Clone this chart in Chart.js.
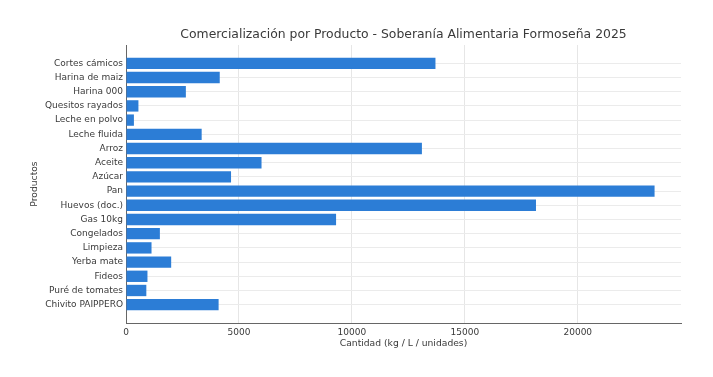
<!DOCTYPE html>
<html lang="es">

<head>
  <meta charset="UTF-8">
  <title>Comercialización por Producto</title>
  <style>
    html, body {
      margin: 0;
      padding: 0;
      background: #fff;
    }

    #contenedor {
      width: 713px;
      height: 377px;
    }
  </style>
  <script src="https://cdn.jsdelivr.net/npm/chart.js"></script>
</head>

<body>
  <div id="contenedor">
    <canvas id="grafico"></canvas>
  </div>

  <script>
    // Datos
    const productos = [
      'Cortes cámicos', 'Harina de maiz', 'Harina 000', 'Quesitos rayados',
      'Leche en polvo', 'Leche fluida', 'Arroz', 'Aceite', 'Azúcar', 'Pan',
      'Huevos (doc.)', 'Gas 10kg', 'Congelados', 'Limpieza', 'Yerba mate',
      'Fideos', 'Puré de tomates', 'Chivito PAIPPERO'
    ];
    const cantidades = [
      13700, 4150, 2650, 550, 350, 3350, 13100, 6000, 4650, 23400,
      18150, 9300, 1500, 1130, 2000, 950, 900, 4100
    ];
    const ticksX = [0, 5000, 10000, 15000, 20000];

    const titulo = 'Comercialización por Producto - Soberanía Alimentaria Formoseña 2025';
    const fuente = 'DejaVu Sans';

    // titulo centrado sobre el area del grafico
    const tituloPlugin = {
      id: 'tituloArea',
      afterDraw(chart) {
        const { ctx, chartArea } = chart;
        ctx.save();
        ctx.font = '12.4px "' + fuente + '"';
        ctx.fillStyle = '#3a3a3a';
        ctx.textAlign = 'center';
        ctx.textBaseline = 'middle';
        ctx.fillText(titulo, (chartArea.left + chartArea.right) / 2, 35);
        ctx.restore();
      }
    };

    const margenY = 1.29;

    new Chart(document.getElementById('grafico'), {
      type: 'bar',
      data: {
        datasets: [{
          data: cantidades.map((v, i) => ({ x: v, y: i })),
          backgroundColor: '#2c7dd6',
          borderWidth: 0,
          barPercentage: 0.8,
          categoryPercentage: 1
        }]
      },
      options: {
        indexAxis: 'y',
        responsive: true,
        maintainAspectRatio: false,
        animation: false,
        layout: { padding: { top: 45, right: 32, bottom: 0, left: 0 } },
        plugins: {
          legend: { display: false },
          tooltip: { enabled: false }
        },
        scales: {
          x: {
            type: 'linear',
            min: 0,
            max: 24570,
            afterFit: (s) => { s.height = 54; },
            afterBuildTicks: (s) => { s.ticks = ticksX.map(v => ({ value: v })); },
            border: { color: '#666', width: 1 },
            grid: { color: '#e6e6e6', drawTicks: false },
            ticks: {
              padding: 4,
              color: '#3a3a3a',
              font: { family: fuente, size: 9 },
              callback: (v) => String(v)
            },
            title: {
              display: true,
              text: 'Cantidad (kg / L / unidades)',
              color: '#3a3a3a',
              font: { family: fuente, size: 9.2 },
              padding: { top: 0, bottom: 28 }
            }
          },
          y: {
            type: 'linear',
            reverse: true,
            offset: false,
            min: -margenY,
            max: productos.length - 1 + margenY,
            afterFit: (s) => { s.width = 126; },
            afterBuildTicks: (s) => { s.ticks = productos.map((_, i) => ({ value: i })); },
            border: { color: '#666', width: 1 },
            grid: { offset: false, color: '#ebebeb', drawTicks: false },
            ticks: {
              padding: 3,
              color: '#3a3a3a',
              font: { family: fuente, size: 9 },
              callback: (v) => productos[v]
            },
            title: {
              display: true,
              text: 'Productos',
              color: '#3a3a3a',
              font: { family: fuente, size: 9.2 },
              padding: { top: 29, bottom: 0 }
            }
          }
        }
      },
      plugins: [tituloPlugin]
    });
  </script>
</body>

</html>
